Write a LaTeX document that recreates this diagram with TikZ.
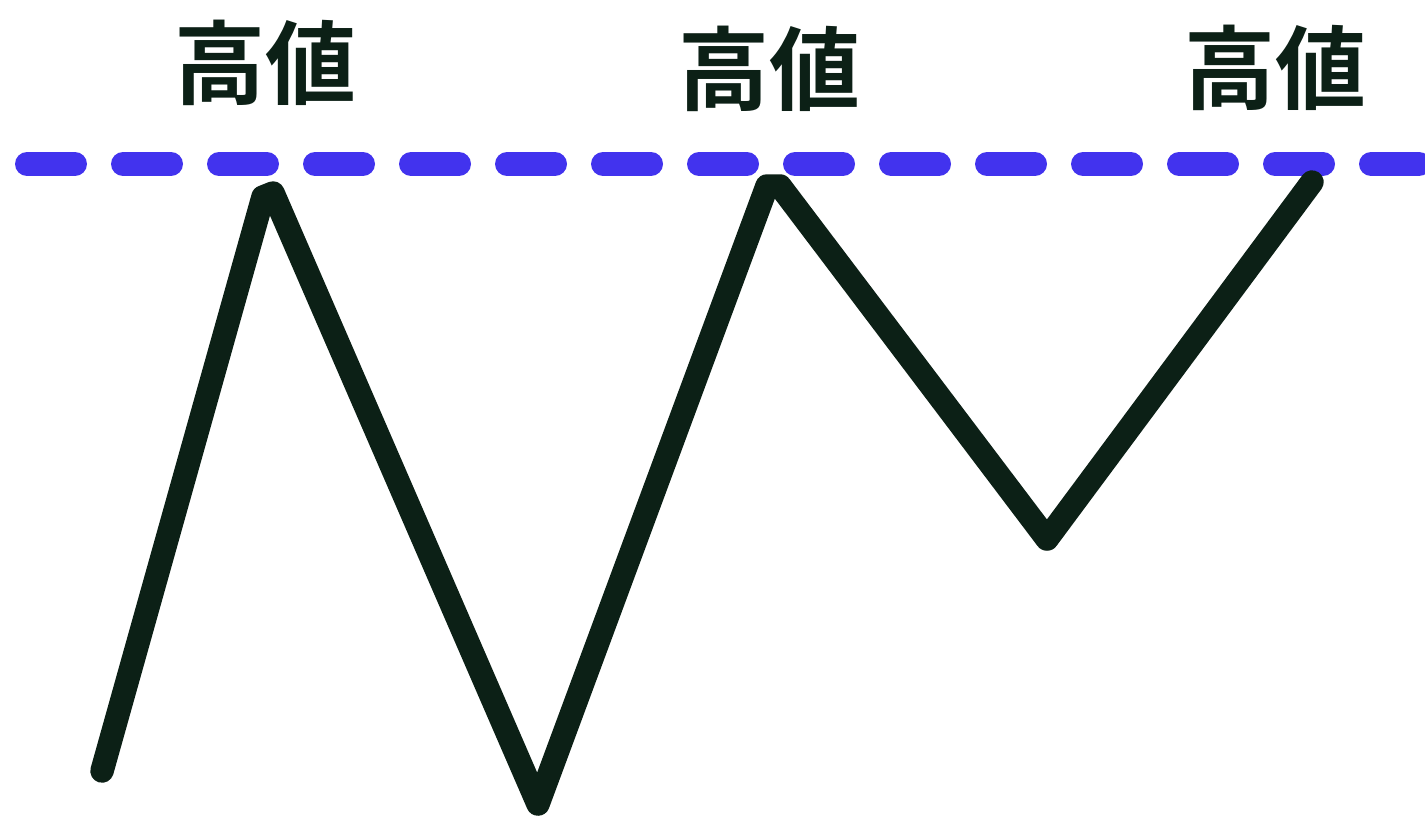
\documentclass[tikz,border=0pt]{standalone}
\usepackage{fontspec}
\newfontfamily\cjk{Noto Sans CJK JP Bold}
\definecolor{zig}{RGB}{12,32,22}
\definecolor{dash}{RGB}{66,51,238}
\begin{document}
\begin{tikzpicture}[x=1pt,y=-1pt,
  zigline/.style={draw=zig,line width=23.5pt,line cap=round,line join=round},
  dashline/.style={draw=dash,line width=24pt,line cap=round,dash pattern=on 48pt off 48pt,dash phase=0pt},
  label/.style={font=\cjk\fontsize{91}{91}\selectfont,text=zig,inner sep=0pt}]
\useasboundingbox (0,0) rectangle (1425,815);
\coordinate (d0) at (27,164);
\coordinate (d1) at (1460,164);
\draw[dashline] (d0) -- (d1);
\coordinate (p0) at (102,771);
\coordinate (p1) at (263,197);
\coordinate (p2) at (273,193);
\coordinate (p3) at (538,804);
\coordinate (p4) at (767,186);
\coordinate (p5) at (780,186);
\coordinate (p6) at (1047,539);
\coordinate (p7) at (1312,182);
\draw[zigline] (p0) -- (p1) -- (p2) -- (p3) -- (p4) -- (p5) -- (p6) -- (p7);
\node[label] (t1) at (265,63) {高値};
\node[label] (t2) at (769,69) {高値};
\node[label] (t3) at (1275,68) {高値};
\end{tikzpicture}
\end{document}
